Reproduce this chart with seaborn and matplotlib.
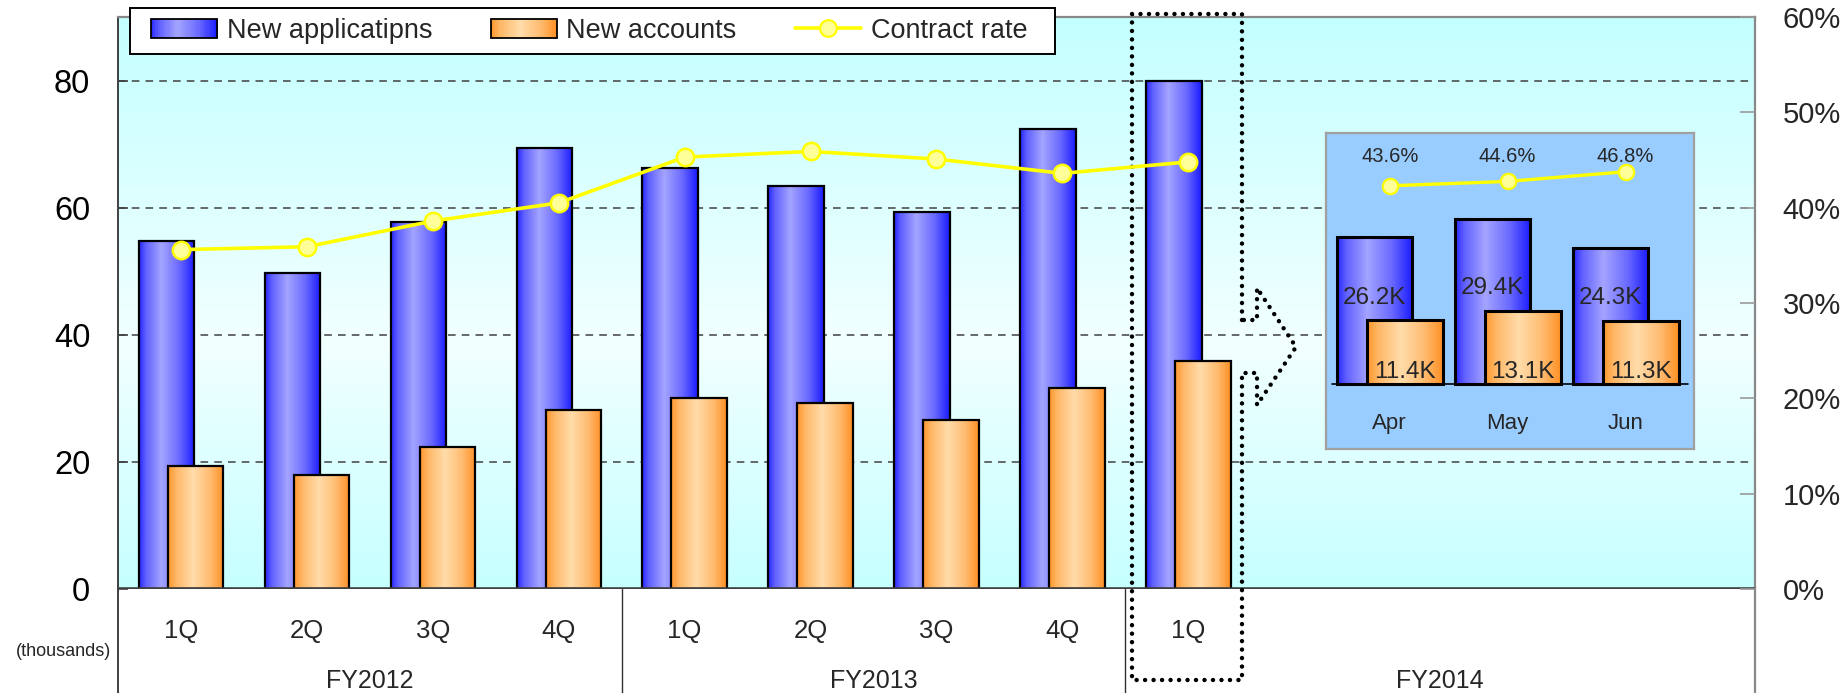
import numpy as np
import pandas as pd
import matplotlib
matplotlib.use("Agg")
import matplotlib.pyplot as plt
import seaborn as sns
from matplotlib.colors import LinearSegmentedColormap
from matplotlib.patches import Rectangle
from matplotlib.legend_handler import HandlerBase
from matplotlib.lines import Line2D

# ---------------- data ----------------
quarters = ["1Q", "2Q", "3Q", "4Q", "1Q", "2Q", "3Q", "4Q", "1Q"]
fiscal_years = ["FY2012", "FY2013", "FY2014"]
fy_slot_spans = [4, 4, 5]
new_applications = [54.7, 49.7, 57.7, 69.4, 66.2, 63.4, 59.3, 72.4, 79.9]
new_accounts = [19.3, 17.9, 22.3, 28.1, 30.1, 29.2, 26.6, 31.6, 35.8]
contract_rate = [35.6, 35.9, 38.6, 40.5, 45.3, 45.9, 45.1, 43.6, 44.8]
months = ["Apr", "May", "Jun"]
month_applications = [26.2, 29.4, 24.3]
month_accounts = [11.4, 13.1, 11.3]
month_rate = [43.6, 44.6, 46.8]
left_ticks = [0, 20, 40, 60, 80]
right_ticks = [0, 10, 20, 30, 40, 50, 60]

sns.set_style("white")
plt.rcParams["font.family"] = ["Liberation Sans", "DejaVu Sans"]

blue_cmap = LinearSegmentedColormap.from_list(
    "b", [(0, "#2626ff"), (0.12, "#6060ff"), (0.40, "#a4a4ff"), (0.72, "#6a6aff"), (1, "#1a1aff")])
orange_cmap = LinearSegmentedColormap.from_list(
    "o", [(0, "#ff962a"), (0.15, "#ffb868"), (0.45, "#ffdcaa"), (0.75, "#ffbc72"), (1, "#ff9024")])
bg_cmap = LinearSegmentedColormap.from_list(
    "bg", [(0, "#c6ffff"), (0.43, "#f2ffff"), (1, "#c4ffff")])

YELLOW = "#ffff00"
YELLOW_FILL = "#ffff99"

W, H = 1849, 693
fig = plt.figure(figsize=(W / 100, H / 100), dpi=100)
ax_l, ax_r, ax_t, ax_b = 118, 1755, 17, 589
ax = fig.add_axes([ax_l / W, 1 - ax_b / H, (ax_r - ax_l) / W, (ax_b - ax_t) / H])

n_slots = sum(fy_slot_spans)
xlim = (-0.5, n_slots - 0.5)
ylim = (0, 90)
ax.set_xlim(*xlim)
ax.set_ylim(*ylim)

# background gradient
grad_v = np.linspace(0, 1, 256).reshape(-1, 1)
ax.imshow(grad_v, cmap=bg_cmap, aspect="auto", extent=(*xlim, *ylim),
          origin="lower", zorder=0, interpolation="bilinear")

for v in left_ticks[1:]:
    ax.axhline(v, color="#404040", lw=1.1, ls=(0, (5, 4)), zorder=1)


def gradient_bars(axis, patches, cmap, z):
    grad = np.linspace(0, 1, 256).reshape(1, -1)
    for p in patches:
        x0, y0 = p.get_x(), p.get_y()
        w, h = p.get_width(), p.get_height()
        axis.imshow(grad, cmap=cmap, aspect="auto", extent=(x0, x0 + w, y0, y0 + h),
                    origin="lower", zorder=z, interpolation="bilinear")
        p.set_facecolor("none")
        p.set_zorder(z + 0.1)


pos = pd.Series(np.arange(len(quarters)), dtype=float)
n0 = len(ax.patches)
sns.barplot(x=pos - 0.115, y=new_applications, native_scale=True, width=0.44,
            color="#6666ff", edgecolor="black", linewidth=1.6, errorbar=None, ax=ax)
blue_patches = ax.patches[n0:]
n1 = len(ax.patches)
sns.barplot(x=pos + 0.115, y=new_accounts, native_scale=True, width=0.44,
            color="#ffbb66", edgecolor="black", linewidth=1.6, errorbar=None, ax=ax)
orange_patches = ax.patches[n1:]
gradient_bars(ax, blue_patches, blue_cmap, 2)
gradient_bars(ax, orange_patches, orange_cmap, 3)

ax.axhline(0, color="#404040", lw=2.6, zorder=4)

# spines
for s in ["top", "right", "bottom"]:
    ax.spines[s].set_color("#888888")
    ax.spines[s].set_linewidth(1.6)
ax.spines["bottom"].set_visible(False)
ax.spines["left"].set_color("#404040")
ax.spines["left"].set_linewidth(1.4)

ax.set_xticks([])
ax.set_yticks(left_ticks)
ax.tick_params(axis="y", direction="in", length=7, width=1.2, color="#404040",
               pad=20, labelsize=23.5, labelcolor="black")
ax.set_xlabel("")
ax.set_ylabel("")

# lower category area
y_fig_bottom = -(H - ax_b) / ((ax_b - ax_t) / (ylim[1] - ylim[0]))
ax.plot([xlim[0], xlim[0]], [0, y_fig_bottom], color="#404040", lw=1.4, clip_on=False)
ax.plot([xlim[1], xlim[1]], [0, y_fig_bottom], color="#888888", lw=1.6, clip_on=False)
starts = np.cumsum([0] + fy_slot_spans[:-1])
for s in starts[1:]:
    ax.plot([s - 0.5, s - 0.5], [0, y_fig_bottom], color="#303030", lw=1.0, clip_on=False)

xt = ax.get_xaxis_transform()
for i, q in enumerate(quarters):
    ax.text(i, -0.0734, q, transform=xt, ha="center", va="center", fontsize=18.5)
for s, span, fy in zip(starts, fy_slot_spans, fiscal_years):
    ax.text(s + (span - 1) / 2, -0.161, fy, transform=xt, ha="center", va="center",
            fontsize=18)
ax.text(-0.004, -0.11, "(thousands)", transform=ax.transAxes, ha="right", va="center",
        fontsize=13)

# contract rate line (right axis)
ax2 = ax.twinx()
sns.lineplot(x=pos, y=contract_rate, ax=ax2, color=YELLOW, lw=2.6, marker="o",
             markersize=12.5, markerfacecolor=YELLOW_FILL, markeredgecolor=YELLOW,
             markeredgewidth=1.8, zorder=5)
ax2.set_ylim(0, 60)
ax2.set_yticks(right_ticks)
ax2.set_yticklabels([f"{t}%" for t in right_ticks])
ax2.tick_params(axis="y", direction="in", length=11, width=1.2, color="#999999",
                pad=20, labelsize=21)
for s in ax2.spines.values():
    s.set_visible(False)
ax2.set_xlim(*xlim)
ax2.set_ylabel("")
ax2.set_xlabel("")

# dotted highlight box with arrow around FY2014 1Q
px_per_unit = (ax_b - ax_t) / (ylim[1] - ylim[0])
slot_px = (ax_r - ax_l) / n_slots


def dx(px):
    return (px - ax_l) / slot_px - 0.5


def dy(py):
    return (ax_b - py) / px_per_unit


box_x = [1242, 1242, 1132, 1132, 1242, 1242, 1257, 1257, 1296, 1257, 1257, 1242]
box_y = [320, 14, 14, 680, 680, 373, 373, 405, 347, 288, 320, 320]
ax.plot([dx(v) for v in box_x], [dy(v) for v in box_y], color="black", lw=3.2,
        ls=(0, (0.01, 1.9)), dash_capstyle="round", clip_on=False, zorder=6)
ax.set_xlim(*xlim)
ax.set_ylim(*ylim)

# ---------------- inset (monthly) ----------------
ib_l, ib_r, ib_t, ib_b = 1326, 1694, 133, 449
axi = fig.add_axes([ib_l / W, 1 - ib_b / H, (ib_r - ib_l) / W, (ib_b - ib_t) / H])
axi.set_facecolor("#99ccff")
for s in axi.spines.values():
    s.set_color("#a0a0a0")
    s.set_linewidth(1.6)
mpos = pd.Series(np.arange(len(months)), dtype=float)
m0 = len(axi.patches)
sns.barplot(x=mpos - 0.13, y=month_applications, native_scale=True, width=0.64,
            color="#6666ff", edgecolor="black", linewidth=2.2, errorbar=None, ax=axi)
mb = axi.patches[m0:]
m1 = len(axi.patches)
sns.barplot(x=mpos + 0.13, y=month_accounts, native_scale=True, width=0.64,
            color="#ffbb66", edgecolor="black", linewidth=2.2, errorbar=None, ax=axi)
mo = axi.patches[m1:]
gradient_bars(axi, mb, blue_cmap, 2)
gradient_bars(axi, mo, orange_cmap, 3)
axi.axhline(0, 0.016, 0.984, color="black", lw=1.2, zorder=4)
ixlim = (-0.54, 2.58)
iylim = (-11.6, 44.8)
axi.set_xlim(*ixlim)
axi.set_ylim(*iylim)
axi.set_xticks([])
axi.set_yticks([])
axi.set_xlabel("")
axi.set_ylabel("")
for i, (a, c, m) in enumerate(zip(month_applications, month_accounts, months)):
    axi.text(i - 0.13, c + 4.0, f"{a:.1f}K", ha="center", va="center", fontsize=17.5,
             zorder=6)
    axi.text(i + 0.13, 2.2, f"{c:.1f}K", ha="center", va="center", fontsize=17.5, zorder=6)
    axi.text(i, -7.1, m, ha="center", va="center", fontsize=16)

axi2 = axi.twinx()
sns.lineplot(x=mpos, y=month_rate, ax=axi2, color=YELLOW, lw=2.4, marker="o",
             markersize=11, markerfacecolor=YELLOW_FILL, markeredgecolor=YELLOW,
             markeredgewidth=1.6)
axi2.set_ylim(-16.2, 55.6)
axi2.set_xlim(*ixlim)
axi2.set_yticks([])
axi2.set_ylabel("")
for s in axi2.spines.values():
    s.set_visible(False)
for i, r in enumerate(month_rate):
    axi2.text(i, 50.2, f"{r}%", ha="center", va="center", fontsize=14.5)


# ---------------- legend ----------------
class GradHandler(HandlerBase):
    def __init__(self, cmap):
        super().__init__()
        self.cmap = cmap

    def create_artists(self, legend, orig_handle, xdescent, ydescent, width, height,
                       fontsize, trans):
        arts = []
        n = 30
        for i in range(n):
            arts.append(Rectangle((-xdescent + width * i / n, -ydescent), width / n * 1.08,
                                  height, facecolor=self.cmap((i + 0.5) / n),
                                  edgecolor="none", transform=trans))
        arts.append(Rectangle((-xdescent, -ydescent), width, height, facecolor="none",
                              edgecolor="black", lw=1.3, transform=trans))
        return arts


# legend frame drawn as figure rectangle
lg_l, lg_r, lg_t, lg_b = 130, 1055, 8, 54
fig.patches.append(Rectangle((lg_l / W, 1 - lg_b / H), (lg_r - lg_l) / W, (lg_b - lg_t) / H,
                             transform=fig.transFigure, facecolor="white", edgecolor="black",
                             lw=1.4, zorder=1))

h_blue = Rectangle((0, 0), 1, 1)
h_orange = Rectangle((0, 0), 1, 1)
h_line = Line2D([], [], color=YELLOW, lw=2.6, marker="o", markersize=12,
                markerfacecolor=YELLOW_FILL, markeredgecolor=YELLOW, markeredgewidth=1.6)
leg = fig.legend([h_blue, h_orange, h_line], ["New applicatipns", "New accounts", "Contract rate"],
                 handler_map={h_blue: GradHandler(blue_cmap), h_orange: GradHandler(orange_cmap)},
                 loc="center left", bbox_to_anchor=(151 / W, 1 - ((lg_t + lg_b) / 2) / H),
                 ncol=3, fontsize=19.5, frameon=False,
                 handlelength=2.45, handleheight=0.72, handletextpad=0.35, columnspacing=2.15,
                 borderpad=0, borderaxespad=0)

fig.savefig("out.png", dpi=100, facecolor="white")
